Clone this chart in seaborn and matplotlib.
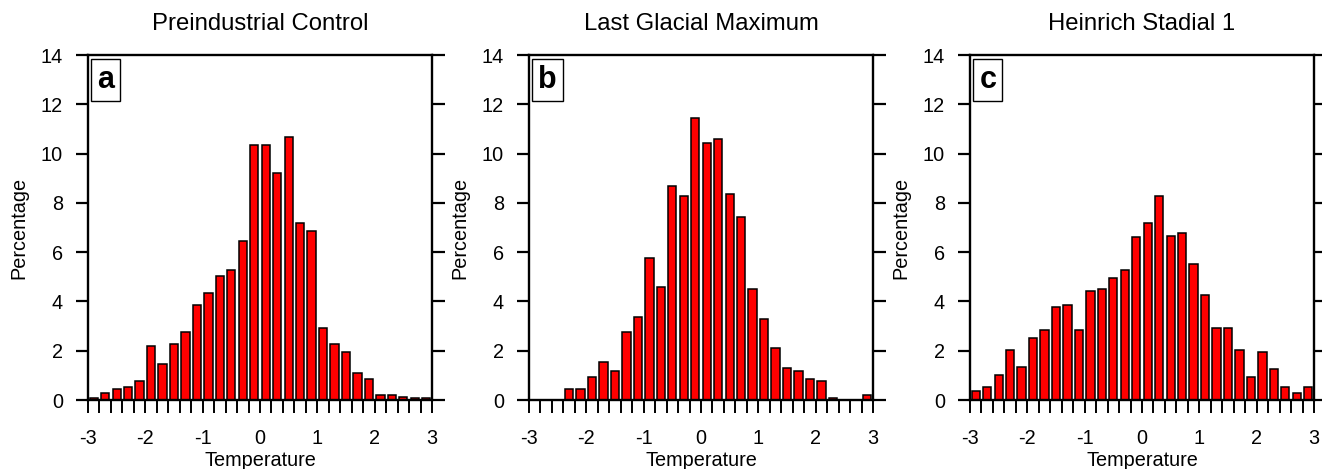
import numpy as np
import pandas as pd
import matplotlib
matplotlib.use("Agg")
import matplotlib.pyplot as plt
import seaborn as sns
from matplotlib.ticker import MultipleLocator, FixedLocator

# ---- data ----
bin_centers = [-2.9, -2.7, -2.5, -2.3, -2.1, -1.9, -1.7, -1.5, -1.3, -1.1,
               -0.9, -0.7, -0.5, -0.3, -0.1, 0.1, 0.3, 0.5, 0.7, 0.9,
               1.1, 1.3, 1.5, 1.7, 1.9, 2.1, 2.3, 2.5, 2.7, 2.9]

pi_control = [0.10, 0.27, 0.43, 0.53, 0.77, 2.18, 1.45, 2.27, 2.77, 3.84,
              4.36, 5.02, 5.26, 6.45, 10.35, 10.35, 9.20, 10.68, 7.20, 6.85,
              2.94, 2.27, 1.93, 1.11, 0.85, 0.19, 0.20, 0.11, 0.10, 0.10]

lgm = [0.0, 0.0, 0.0, 0.43, 0.43, 0.95, 1.53, 1.19, 2.77, 3.36,
       5.75, 4.60, 8.69, 8.28, 11.43, 10.43, 10.61, 8.35, 7.44, 4.52,
       3.27, 2.10, 1.29, 1.19, 0.85, 0.77, 0.08, 0.0, 0.0, 0.20]

hs1 = [0.35, 0.53, 1.01, 2.02, 1.35, 2.52, 2.86, 3.76, 3.84, 2.86,
       4.44, 4.52, 4.94, 5.26, 6.60, 7.17, 8.27, 6.67, 6.77, 5.52,
       4.26, 2.94, 2.94, 2.02, 0.95, 1.93, 1.27, 0.53, 0.27, 0.53]

titles = ["Preindustrial Control", "Last Glacial Maximum", "Heinrich Stadial 1"]
panel_letters = ["a", "b", "c"]
series = [pi_control, lgm, hs1]
x_tick_values = [-3, -2, -1, 0, 1, 2, 3]
x_tick_labels = ["-3", "-2", "-1", "0", "1", "2", "3"]
y_tick_values = [0, 2, 4, 6, 8, 10, 12, 14]

# ---- style ----
sns.set_theme(style="ticks")
plt.rcParams["font.family"] = ["Liberation Sans", "DejaVu Sans"]

W, H = 1322, 469
fig = plt.figure(figsize=(W / 100, H / 100), dpi=100)

lefts = [88, 529, 970]
ax_w = 344
ax_bottom = 400
ax_top = 55

for i in range(3):
    ax = fig.add_axes([lefts[i] / W, 1 - ax_bottom / H, ax_w / W, (ax_bottom - ax_top) / H])
    df = pd.DataFrame({"Temperature": bin_centers, "Percentage": series[i]})
    sns.barplot(data=df, x="Temperature", y="Percentage", native_scale=True,
                width=0.72, color="#ff0000", saturation=1, edgecolor="black",
                linewidth=1.1, ax=ax)
    ax.set_xlim(-3, 3)
    ax.set_ylim(0, 14)

    for sp in ax.spines.values():
        sp.set_visible(True)
        sp.set_linewidth(1.7)
        sp.set_color("black")

    ax.xaxis.set_major_locator(FixedLocator(x_tick_values))
    ax.set_xticklabels(x_tick_labels)
    ax.xaxis.set_minor_locator(MultipleLocator(0.2))
    ax.yaxis.set_major_locator(FixedLocator(y_tick_values))

    ax.tick_params(axis="x", which="both", direction="out", length=9.5, width=1.4,
                   top=False, bottom=True, colors="black", pad=11.5, labelsize=14.3)
    ax.tick_params(axis="y", which="major", direction="out", length=9, width=1.6,
                   left=True, right=True, colors="black", pad=9, labelsize=14.3)

    ax.set_xlabel("Temperature", fontsize=14.3, labelpad=2, color="black")
    ax.set_ylabel("Percentage", fontsize=14.3, labelpad=9, color="black")
    ax.set_title(titles[i], fontsize=17.2, pad=18, color="black")

    ax.text(0.027, 0.972, panel_letters[i], transform=ax.transAxes,
            fontsize=22, fontweight="bold", ha="left", va="top", color="black",
            bbox=dict(boxstyle="square,pad=0.2", fc="white", ec="black", lw=1.0))

fig.savefig("out.png", dpi=100)
